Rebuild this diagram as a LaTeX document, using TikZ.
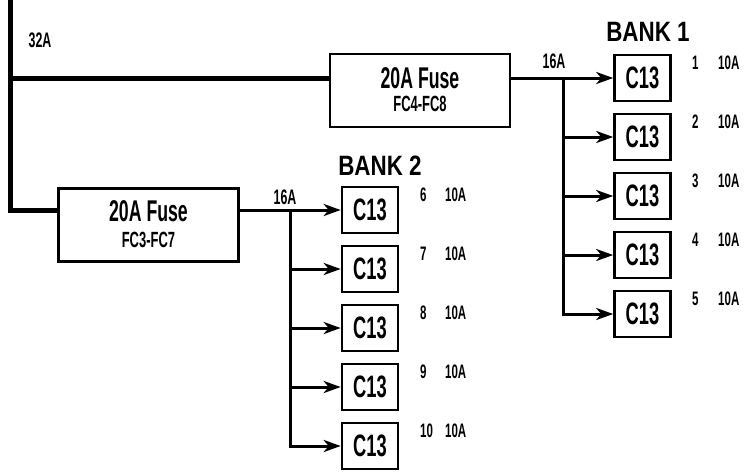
\documentclass[tikz,border=0pt]{standalone}
\usepackage{fontspec}
\setmainfont{Liberation Sans}[FakeStretch=0.59]
\newfontfamily\headfont{Liberation Sans}[FakeStretch=0.8]
\usetikzlibrary{arrows.meta}

\begin{document}
\begin{tikzpicture}[x=1pt,y=-1pt,
  bus/.style={line width=5pt},
  wire/.style={line width=3pt},
  feed/.style={wire,-{Stealth[length=17pt,width=12pt,inset=5pt]}},
  fusebox/.style={draw,line width=2.6pt,minimum width=180pt,minimum height=73pt,inner sep=0pt},
  fusetxt/.style={font=\bfseries\fontsize{30}{32}\selectfont,inner sep=0pt},
  fusesub/.style={font=\bfseries\fontsize{22}{24}\selectfont,inner sep=0pt},
  outlet/.style={draw,line width=2.6pt,minimum width=56pt,minimum height=46pt,inner sep=0pt,font=\bfseries\fontsize{31}{33}\selectfont},
  amps/.style={font=\bfseries\fontsize{21}{24}\selectfont,inner sep=0pt},
  tag/.style={font=\bfseries\fontsize{19.5}{22}\selectfont,anchor=west,inner sep=0pt},
  bank/.style={font=\headfont\bfseries\fontsize{28}{30}\selectfont,inner sep=0pt}]
  \useasboundingbox (0,0) rectangle (744,472);

  % fuses
  \node[fusebox] (fuseA) at (420,90.5) {};
  \node[fusetxt] (fuseAname) at (420,78) {20A Fuse};
  \node[fusesub] (fuseAid) at (420,104) {FC4-FC8};
  \node[fusebox] (fuseB) at (148.5,225) {};
  \node[fusetxt] (fuseBname) at (148.5,211) {20A Fuse};
  \node[fusesub] (fuseBid) at (148.5,240) {FC3-FC7};

  % main feed
  \coordinate (busTop) at (10,0);
  \coordinate (tapA) at (10,78);
  \coordinate (tapB) at (10,210);
  \draw[bus] (busTop) -- (tapB) -- (tapB -| fuseB.west);
  \draw[bus] (tapA) -- (tapA -| fuseA.west);
  \node[amps] (mainAmp) at (40,40) {32A};

  % bank 1
  \node[bank] (bankA) at (648,32) {BANK 1};
  \foreach \n/\y in {1/78,2/137,3/196,4/255,5/314} {
    \node[outlet] (c\n) at (642.5,\y) {C13};
    \node[tag] (num\n) at (692,\y-15) {\n};
    \node[tag] (amp\n) at (718,\y-15) {10A};
  }
  \coordinate (splitA) at (563,78);
  \node[amps] (ampA) at (554,61) {16A};
  \draw[wire] (fuseA.east |- tapA) -- (splitA);
  \draw[feed] (splitA) -- (c1);
  \draw[feed] (splitA) |- (c5);
  \foreach \n in {2,...,4}
    \draw[feed] (splitA |- c\n) -- (c\n);

  % bank 2
  \node[bank] (bankB) at (380,166) {BANK 2};
  \foreach \n/\y in {6/210,7/269,8/328,9/387,10/446} {
    \node[outlet] (c\n) at (370,\y) {C13};
    \node[tag] (num\n) at (420,\y-15) {\n};
    \node[tag] (amp\n) at (445,\y-15) {10A};
  }
  \coordinate (splitB) at (290,210);
  \node[amps] (ampB) at (285,197) {16A};
  \draw[wire] (fuseB.east |- tapB) -- (splitB);
  \draw[feed] (splitB) -- (c6);
  \draw[feed] (splitB) |- (c10);
  \foreach \n in {7,...,9}
    \draw[feed] (splitB |- c\n) -- (c\n);
\end{tikzpicture}
\end{document}
